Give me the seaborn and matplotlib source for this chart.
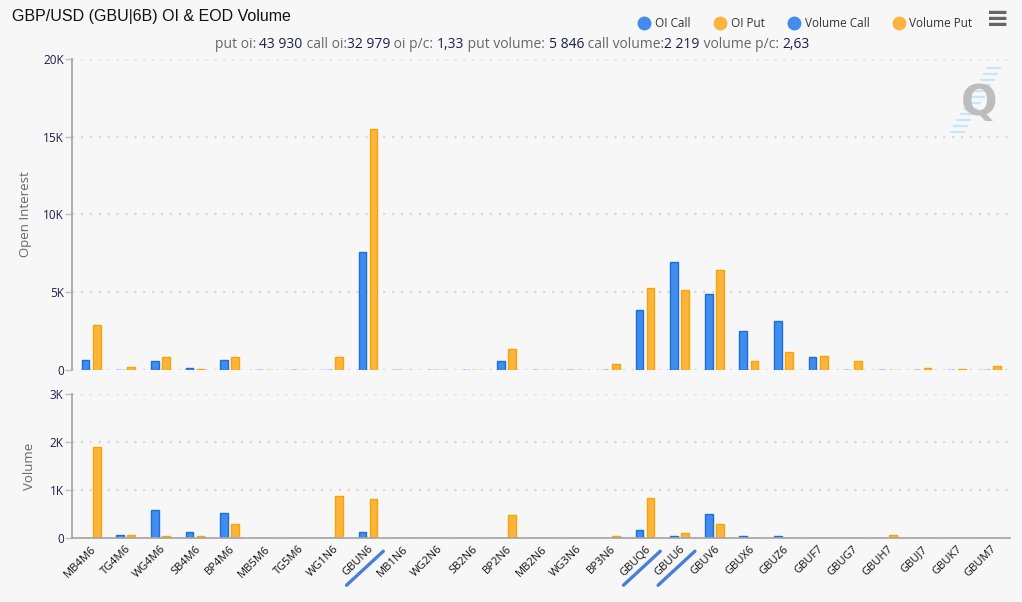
import matplotlib
matplotlib.use("Agg")
import matplotlib.pyplot as plt
import matplotlib.transforms as mtransforms
from matplotlib.lines import Line2D
from matplotlib.ticker import FuncFormatter, MultipleLocator
import pandas as pd
import seaborn as sns

# contracts on the x axis
contracts = ["MB4M6", "TG4M6", "WG4M6", "SB4M6", "BP4M6", "MB5M6", "TG5M6", "WG1N6",
             "GBUN6", "MB1N6", "WG2N6", "SB2N6", "BP2N6", "MB2N6", "WG3N6", "BP3N6",
             "GBUQ6", "GBUU6", "GBUV6", "GBUX6", "GBUZ6", "GBUF7", "GBUG7", "GBUH7",
             "GBUJ7", "GBUK7", "GBUM7"]
underlined = ["GBUN6", "GBUQ6", "GBUU6"]

# open interest
oi_call = [650, 20, 580, 150, 650, 30, 0, 20, 7570, 30, 30, 0, 580, 0, 0, 20,
           3850, 6950, 4900, 2500, 3150, 850, 20, 20, 20, 20, 20]
oi_put = [2900, 200, 850, 80, 850, 20, 0, 850, 15500, 0, 0, 20, 1350, 0, 0, 400,
          5300, 5150, 6450, 550, 1180, 900, 550, 20, 150, 60, 240]

# end of day volume
vol_call = [5, 60, 590, 135, 530, 10, 0, 5, 120, 0, 0, 0, 5, 0, 0, 5,
            160, 40, 510, 40, 40, 5, 5, 5, 5, 5, 5]
vol_put = [1900, 60, 50, 40, 300, 0, 0, 880, 810, 0, 0, 0, 470, 0, 0, 40,
           830, 95, 300, 5, 5, 5, 5, 60, 5, 5, 5]

# summary line
summary_labels = ["put oi: ", " call oi:", " oi p/c: ", " put volume: ", " call volume:", " volume p/c: "]
summary_values = ["43 930", "32 979", "1,33", "5 846", "2 219", "2,63"]

BLUE, BLUE_EDGE = "#418cec", "#1a6fe0"
ORANGE, ORANGE_EDGE = "#fcb43e", "#f7a600"
BG = "#f7f7f7"
NAVY = "#1c1f4a"
GREY = "#666666"

sns.set_theme(style="white")
plt.rcParams["font.family"] = ["Open Sans", "DejaVu Sans"]

oi_df = pd.DataFrame({
    "contract": contracts * 2,
    "value": oi_call + oi_put,
    "kind": ["Call"] * len(contracts) + ["Put"] * len(contracts),
})
vol_df = pd.DataFrame({
    "contract": contracts * 2,
    "value": vol_call + vol_put,
    "kind": ["Call"] * len(contracts) + ["Put"] * len(contracts),
})

fig = plt.figure(figsize=(10.22, 6.02), dpi=100, facecolor=BG)
ax1 = fig.add_axes([0.0705, 0.3854, 0.918, 0.5166], facecolor=BG)
ax2 = fig.add_axes([0.0705, 0.1063, 0.918, 0.2392], facecolor=BG)

for ax, df, top in [(ax1, oi_df, 20000), (ax2, vol_df, 3000)]:
    sns.barplot(data=df, x="contract", y="value", hue="kind", order=contracts,
                hue_order=["Call", "Put"], palette=[BLUE, ORANGE], saturation=1,
                width=0.64, gap=0.3, legend=False, ax=ax)
    for cont, edge in zip(ax.containers, [BLUE_EDGE, ORANGE_EDGE]):
        for bar in cont:
            bar.set_edgecolor(edge)
            bar.set_linewidth(1)
    ax.set_ylim(0, top)
    ax.set_xlim(-0.55, len(contracts) - 0.45)
    ax.yaxis.set_major_formatter(FuncFormatter(lambda v, p: "0" if v == 0 else f"{v / 1000:g}K"))
    ax.grid(axis="y", color="#d9d9d9", linestyle=(0, (1, 3)), linewidth=1.6)
    ax.set_axisbelow(True)
    for s in ["top", "right"]:
        ax.spines[s].set_visible(False)
    ax.spines["left"].set_color("#a6a6a6")
    ax.tick_params(axis="y", colors="#c0c0c0", labelcolor=NAVY, labelsize=8.5,
                   length=5, width=1, pad=1, left=True)
    ax.set_xlabel("")

ax1.yaxis.set_major_locator(MultipleLocator(5000))
ax2.yaxis.set_major_locator(MultipleLocator(1000))
ax1.spines["bottom"].set_visible(False)
ax2.spines["bottom"].set_color("#a6a6a6")
ax1.tick_params(axis="x", bottom=False, labelbottom=False)
ax2.tick_params(axis="x", bottom=False, length=0, labelsize=8, labelcolor="#111111", pad=4)
plt.setp(ax2.get_xticklabels(), rotation=45, ha="right", va="top", rotation_mode="anchor")

ax1.set_ylabel("Open Interest", color=GREY, fontsize=9.5, labelpad=8)
ax2.set_ylabel("Volume", color=GREY, fontsize=9.5, labelpad=10)

# blue strokes under the highlighted contracts
for name in underlined:
    i = contracts.index(name)
    base = ax2.get_xaxis_transform()
    start = base + mtransforms.ScaledTranslation(-15.5 / 72, -34 / 72, fig.dpi_scale_trans)
    end = base + mtransforms.ScaledTranslation(11 / 72, -9.5 / 72, fig.dpi_scale_trans)
    ax2.annotate("", xy=(i, 0), xycoords=end, xytext=(i, 0), textcoords=start,
                 arrowprops=dict(arrowstyle="-", color="#4a7fd6", lw=2.4,
                                 shrinkA=0, shrinkB=0), annotation_clip=False)

# title
fig.text(0.012, 0.972, "GBP/USD (GBU|6B) OI & EOD Volume", fontsize=11.5,
         family=["Liberation Sans", "DejaVu Sans"], color="#111111", va="center")

# summary line: grey labels, dark numbers, each piece chained after the previous one
first = fig.text(0.2, 0.914, summary_labels[0], color=GREY, fontsize=10, va="bottom")
pieces = [(summary_values[0], NAVY)]
for lab, val in zip(summary_labels[1:], summary_values[1:]):
    pieces += [(lab, GREY), (val, NAVY)]
prev = first
for txt, col in pieces:
    prev = ax1.annotate(txt, xy=(1, 0), xycoords=prev, color=col, fontsize=10,
                        va="bottom", ha="left", annotation_clip=False)
fig.canvas.draw()
r = fig.canvas.get_renderer()
x0 = first.get_window_extent(r).x0
x1 = prev.get_window_extent(r).x1
first.set_x(first.get_position()[0] + (512 - (x0 + x1) / 2) / fig.bbox.width)

# legend
handles = [Line2D([], [], marker="o", linestyle="", markersize=9, color=c)
           for c in [BLUE, ORANGE, BLUE, ORANGE]]
fig.legend(handles, ["OI Call", "OI Put", "Volume Call", "Volume Put"], loc="center right",
           bbox_to_anchor=(0.962, 0.961), ncol=4, frameon=False, fontsize=8.5,
           handletextpad=0.3, columnspacing=1.9, handlelength=1.2, labelcolor="#333333")

# menu icon
fig.text(0.976, 0.968, "\u2261", fontsize=20, fontweight="bold", color="#666666",
         ha="center", va="center", family="DejaVu Sans")

# watermark: light blue stripes behind a grey Q
W, H = fig.bbox.width, fig.bbox.height
for k in range(12):
    y_px = 68 + k * 5.8
    left = 989 - (y_px - 65) * 40 / 70
    fig.add_artist(Line2D([left / W, (left + 13) / W], [1 - y_px / H, 1 - y_px / H],
                          color="#c6e6f6", lw=1.6))
fig.text(979 / W, 1 - 103 / H, "Q", fontsize=31, color="#bdbdbd", ha="center", va="center",
         family="DejaVu Sans", fontweight="bold")

fig.savefig("out.png", dpi=100, facecolor=BG)
